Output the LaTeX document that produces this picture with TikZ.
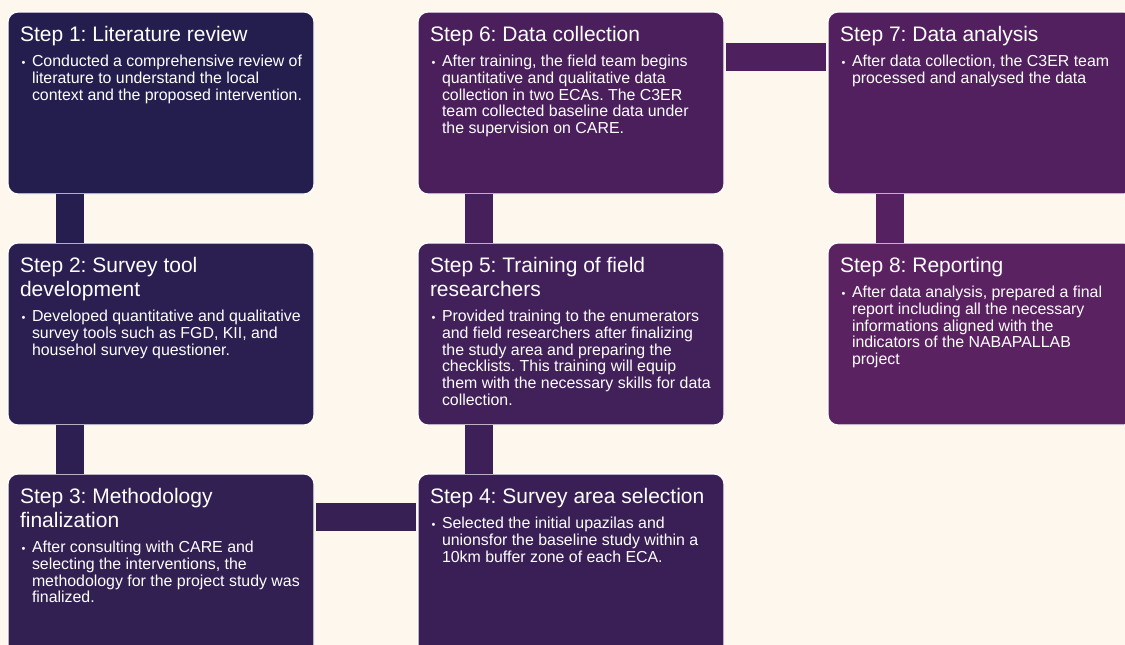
\documentclass[tikz,border=0pt]{standalone}
\usepackage{fontspec}
\setmainfont{Liberation Sans}
\usetikzlibrary{positioning}

\definecolor{paper}{HTML}{FEF7EE}
\definecolor{stepA}{HTML}{241E4E}
\definecolor{stepB}{HTML}{2A1F50}
\definecolor{stepC}{HTML}{322052}
\definecolor{stepD}{HTML}{3A1F56}
\definecolor{stepE}{HTML}{42205A}
\definecolor{stepF}{HTML}{4A1F5C}
\definecolor{stepG}{HTML}{52205E}
\definecolor{stepH}{HTML}{5B2262}

\frenchspacing
\newcommand{\stepcontent}[2]{%
  \parbox[t][182pt][t]{282pt}{%
    \fontsize{21}{24}\selectfont\raggedright\rule{0pt}{29pt}#1\par
    \vspace{9pt}%
    \fontsize{15.9}{16.7}\selectfont
    \hangindent=12pt\hangafter=1\noindent
    \makebox[12pt][l]{\kern1.5pt{\fontsize{11}{12}\selectfont •}}#2\par}}

\tikzset{
  stepbox/.style={draw=white, line width=1.2pt, rounded corners=10pt,
    anchor=north west, inner xsep=12pt, inner ysep=0pt, outer sep=0pt,
    minimum width=306pt, minimum height=182pt, text=white},
  bar/.style={line width=28pt, line cap=butt}
}

\begin{document}
\begin{tikzpicture}[node distance=49pt]
   \useasboundingbox (0,0) rectangle (1125pt,-645pt);
   \clip (0,0) rectangle (1125pt,-645pt);
   \fill[paper] (0,0) rectangle (1125pt,-645pt);

   \node[stepbox,fill=stepA] (s1) at (8pt,-12pt)
     {\stepcontent{Step 1: Literature review}{Conducted a comprehensive review of literature to understand the local context and the proposed intervention.}};
   \node[stepbox,fill=stepB] (s2) [below=of s1]
     {\stepcontent{Step 2: Survey tool development}{Developed quantitative and qualitative survey tools such as FGD, KII, and househol survey questioner.}};
   \node[stepbox,fill=stepC] (s3) [below=of s2]
     {\stepcontent{Step 3: Methodology finalization}{After consulting with CARE and selecting the interventions, the methodology for the project study was finalized.}};
   \node[stepbox,fill=stepD] (s4) [right=104pt of s3]
     {\stepcontent{Step 4: Survey area selection}{Selected the initial upazilas and unionsfor the baseline study within a 10km buffer zone of each ECA.}};
   \node[stepbox,fill=stepE] (s5) [above=of s4]
     {\stepcontent{Step 5: Training of field researchers}{Provided training to the enumerators and field researchers after finalizing the study area and preparing the checklists. This training will equip them with the necessary skills for data collection.}};
   \node[stepbox,fill=stepF] (s6) [above=of s5]
     {\stepcontent{Step 6: Data collection}{After training, the field team begins quantitative and qualitative data collection in two ECAs. The C3ER team collected baseline data under the supervision on CARE.}};
   \node[stepbox,fill=stepG] (s7) [right=104pt of s6]
     {\stepcontent{Step 7: Data analysis}{After data collection, the C3ER team processed and analysed the data}};
   \node[stepbox,fill=stepH] (s8) [below=of s7]
     {\stepcontent{Step 8: Reporting}{After data analysis, prepared a final report including all the necessary informations aligned with the indicators of the NABAPALLAB\newline project}};

   % links between the steps
   \draw[bar,stepA!85!stepB] ([xshift=62pt]s1.south west) -- ([xshift=62pt]s2.north west);
   \draw[bar,stepB!60!stepC] ([xshift=62pt]s2.south west) -- ([xshift=62pt]s3.north west);
   \draw[bar,stepC!50!stepD,shorten <=2pt,shorten >=2pt] ([yshift=-43pt]s3.north east) -- ([yshift=-43pt]s4.north west);
   \draw[bar,stepD!50!stepE] ([xshift=61pt]s4.north west) -- ([xshift=61pt]s5.south west);
   \draw[bar,stepE!50!stepF] ([xshift=61pt]s5.north west) -- ([xshift=61pt]s6.south west);
   \draw[bar,stepF!50!stepG,shorten <=2pt,shorten >=2pt] ([yshift=-45pt]s6.north east) -- ([yshift=-45pt]s7.north west);
   \draw[bar,stepG!50!stepH] ([xshift=62pt]s7.south west) -- ([xshift=62pt]s8.north west);
\end{tikzpicture}
\end{document}
